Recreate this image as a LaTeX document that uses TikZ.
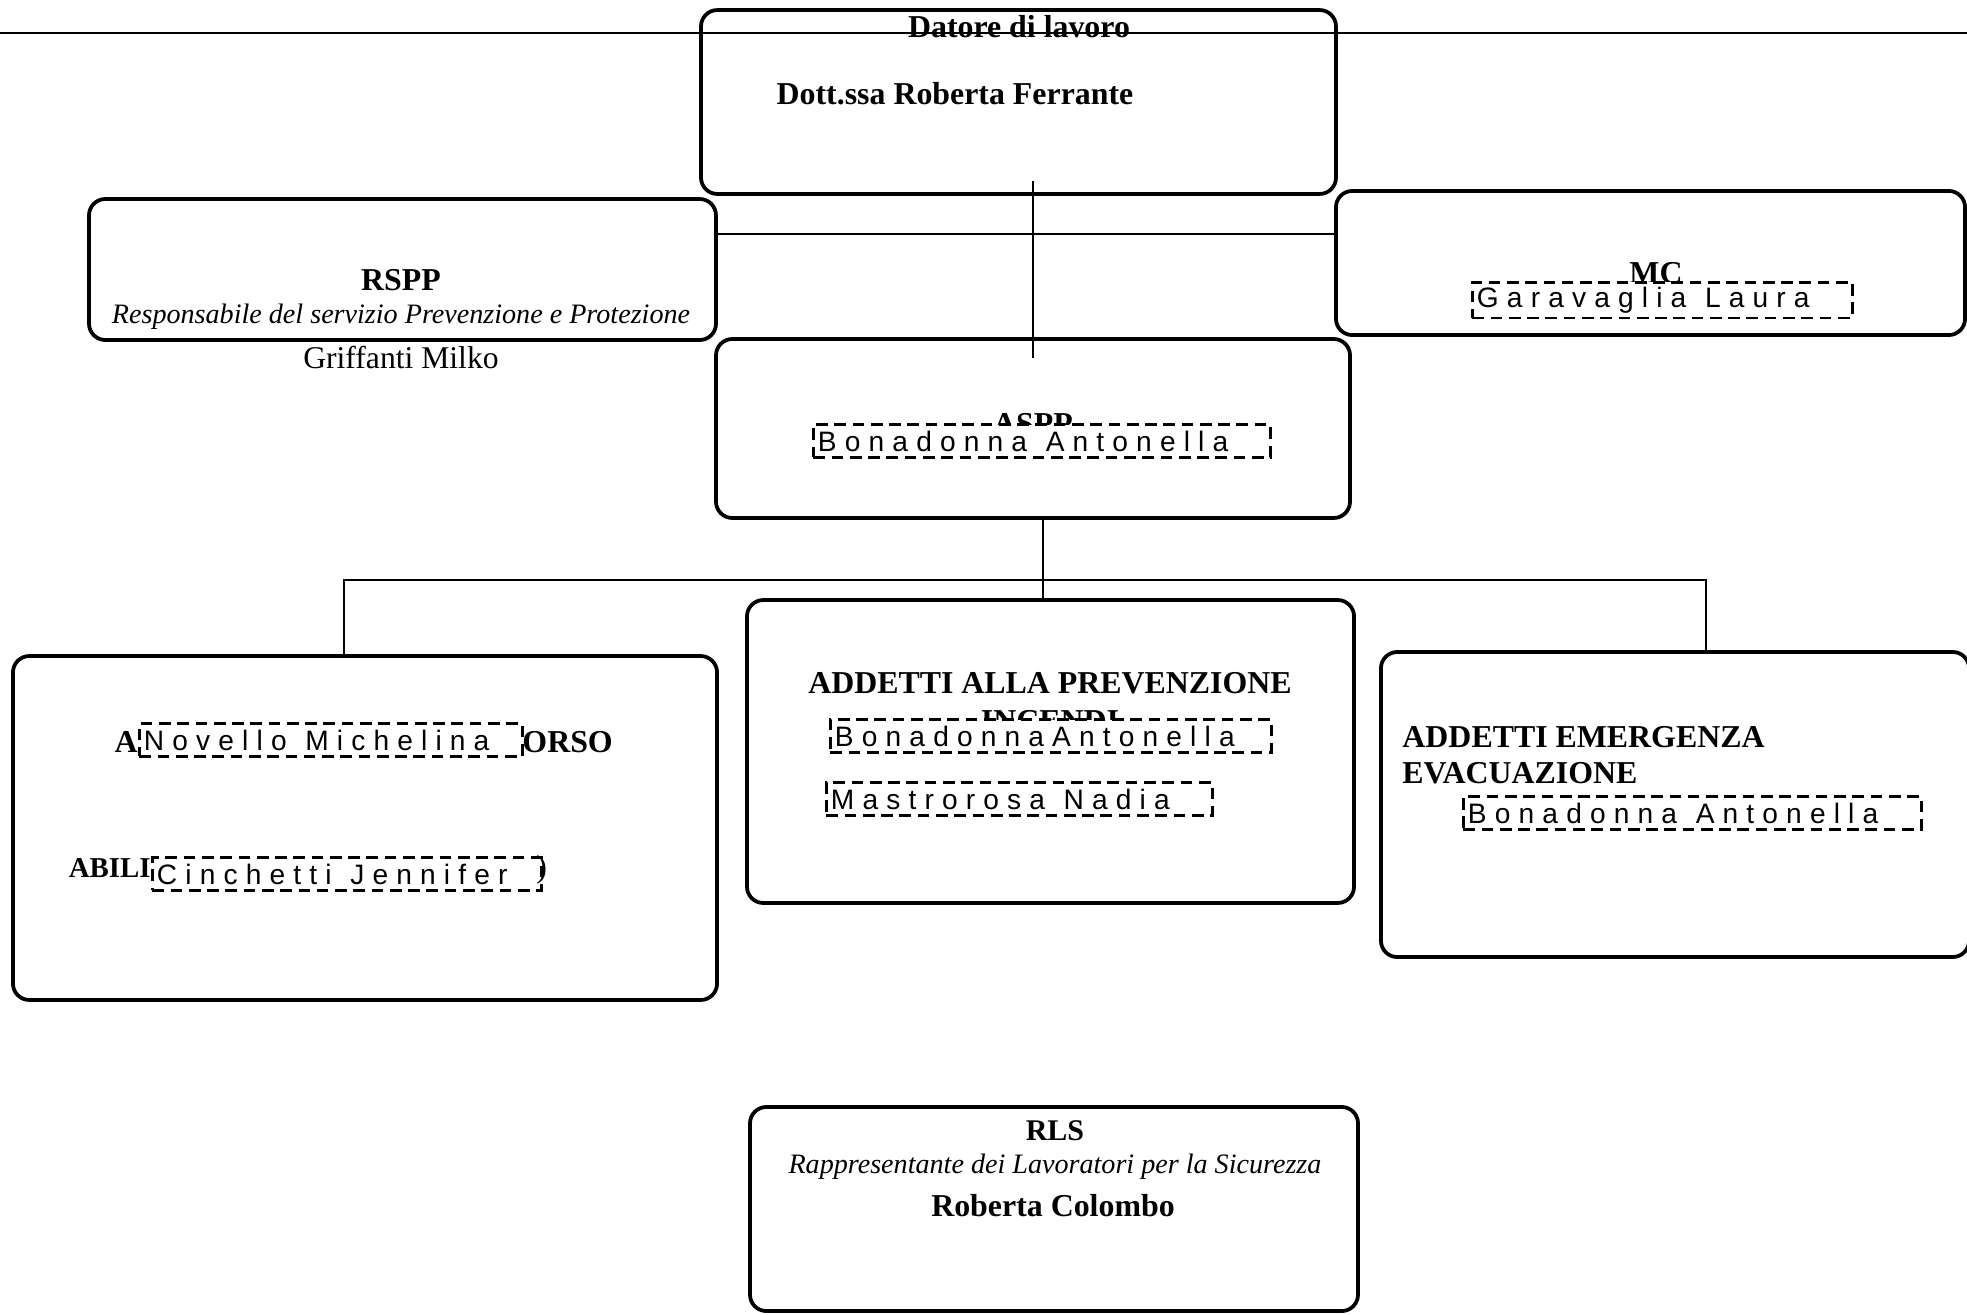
\documentclass[tikz,border=0pt]{standalone}
\usepackage{fontspec}
\setmainfont{Liberation Serif}
\newfontfamily\namefont{Liberation Sans}[LetterSpace=29]
\usetikzlibrary{positioning}
\usetikzlibrary{calc}

\tikzset{
    unitbox/.style={draw, line width=1.6pt, rounded corners=7pt, inner sep=0pt},
    namebox/.style={draw, dash pattern=on 5pt off 2.8pt, line width=1.1pt, fill=white,
        inner sep=2pt, minimum height=14pt, text width=#1, align=left, anchor=west,
        font=\namefont\fontsize{12}{13}\selectfont,
        execute at begin node={\spaceskip=8pt\relax}},
    conn/.style={line width=0.8pt},
    head/.style={font=\bfseries\fontsize{13.6}{16}\selectfont, inner sep=0pt},
    sub/.style={font=\itshape\fontsize{12}{14}\selectfont, inner sep=0pt},
}

\begin{document}
\begin{tikzpicture}[x=0.015cm, y=-0.015cm]
    \useasboundingbox (0,0) rectangle (1967,1315);

    % Boxes (centres in px of the page)
    \node[unitbox, minimum width=271pt, minimum height=78.5pt] (datore) at (1018.5,102) {};
    \node[unitbox, minimum width=267.6pt, minimum height=60.2pt] (rspp) at (402.5,269.5) {};
    \node[unitbox, minimum width=268.5pt, minimum height=61.5pt] (mc) at (1650.5,263) {};
    \node[unitbox, minimum width=270.6pt, minimum height=76.4pt] (aspp) at (1033,428.5) {};
    \node[unitbox, minimum width=300.5pt, minimum height=146.8pt] (soccorso) at (365,828) {};
    \node[unitbox, minimum width=259.1pt, minimum height=129.3pt] (incendi) at (1050.5,751.5) {};
    \node[unitbox, minimum width=251pt, minimum height=130.2pt] (emergenza) at (1675,804.5) {};
    \node[unitbox, minimum width=259.5pt, minimum height=87.1pt] (rls) at (1054,1209) {};

    % Connectors
    \coordinate (lineL) at (0,33);
    \coordinate (lineR) at (1967,33);
    \draw[line width=0.6pt] (lineL) -- (lineR);
    \draw[conn, shorten <=-6.4pt, shorten >=-9pt] (datore.south -| aspp.north) -- (aspp.north);
    \draw[conn] ([yshift=15.2pt]rspp.east) -- ([yshift=15.2pt]rspp.east -| mc.west);
    \draw[conn] ([xshift=4.3pt]aspp.south) -- ([xshift=4.3pt]aspp.south |- incendi.north);
    \coordinate (busL) at (344,580);
    \coordinate (busR) at (1706,580);
    \draw[conn] (soccorso.north -| busL) -- (busL) -- (busR) -- (emergenza.north -| busR);

    % Top row
    \node[head, anchor=base] (datoreT) at (1019,37) {Datore di lavoro};
    \node[head, anchor=base] (datoreN) at (955,104) {Dott.ssa Roberta Ferrante};
    \node[head, anchor=base] (rsppT) at (401,290) {RSPP};
    \node[sub, anchor=base] (rsppS) at (401,323) {Responsabile del servizio Prevenzione e Protezione};
    \node[inner sep=0pt, font=\fontsize{13.5}{16}\selectfont, anchor=base] (rsppN) at (401,368) {Griffanti Milko};
    \node[head, anchor=base] (mcT) at (1656,283) {MC};
    \node[namebox=158.2pt] (mcN) at (1471,300) {Garavaglia Laura};
    \node[head, anchor=base] (asppT) at (1033,434) {ASPP};
    \node[namebox=191pt] (asppN) at (812,441) {Bonadonna Antonella};

    % Primo soccorso
    \node[head, anchor=base east] (socA) at (138,752) {A};
    \node[namebox=159.5pt] (socN1) at (138,740) {Novello Michelina};
    \node[head, anchor=base west] (socB) at (522,752) {ORSO};
    \node[head, font=\bfseries\fontsize{12.3}{14}\selectfont, anchor=base east] (socC) at (151,877) {ABILI};
    \node[namebox=162pt] (socN2) at (151,874) {Cinchetti Jennifer};
    \node[inner sep=0pt, font=\fontsize{13.6}{16}\selectfont, anchor=base west] (socD) at (536,877) {)};

    % Prevenzione incendi
    \node[head, anchor=base] (incT1) at (1050,693) {ADDETTI ALLA PREVENZIONE};
    \node[head, anchor=base] (incT2) at (1050,731) {INCENDI};
    \node[namebox=184.2pt] (incN1) at (829,736) {BonadonnaAntonella};
    \node[namebox=160.7pt] (incN2) at (825,799) {Mastrorosa Nadia};

    % Emergenza
    \node[head, anchor=base west] (emeT1) at (1402,747) {ADDETTI EMERGENZA};
    \node[head, anchor=base west] (emeT2) at (1402,783) {EVACUAZIONE};
    \node[namebox=191.5pt] (emeN) at (1462,813) {Bonadonna Antonella};

    % RLS
    \node[head, font=\bfseries\fontsize{12.8}{15}\selectfont, anchor=base] (rlsT) at (1055,1140) {RLS};
    \node[sub, anchor=base] (rlsS) at (1055,1173) {Rappresentante dei Lavoratori per la Sicurezza};
    \node[head, anchor=base] (rlsN) at (1053,1216) {Roberta Colombo};
\end{tikzpicture}
\end{document}
